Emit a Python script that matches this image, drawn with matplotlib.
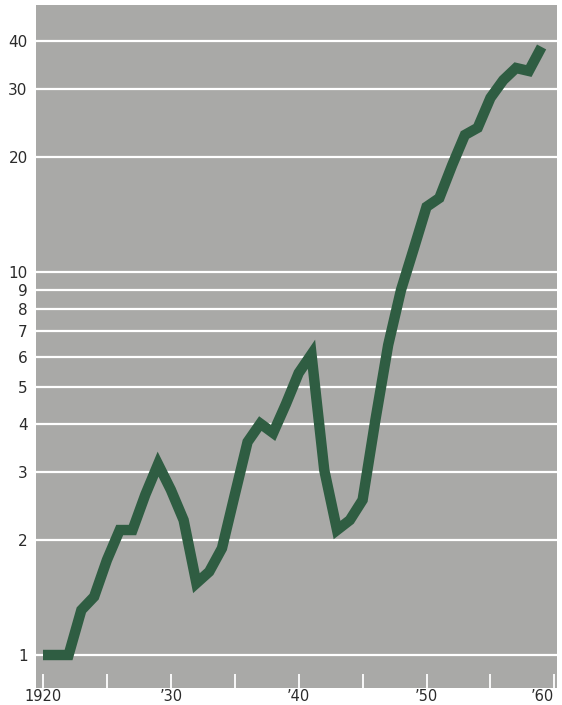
import numpy as np
import matplotlib
matplotlib.use('Agg')
import matplotlib.pyplot as plt

years = np.arange(1920, 1960)
values = [1.0, 1.0, 1.0, 1.31, 1.42, 1.77, 2.12, 2.12, 2.62, 3.15,
          2.70, 2.25, 1.54, 1.65, 1.90, 2.62, 3.60, 4.02, 3.80, 4.52,
          5.45, 6.10, 3.04, 2.12, 2.25, 2.54, 4.11, 6.45, 8.97, 11.5,
          14.8, 15.6, 19.0, 22.8, 23.8, 28.5, 31.7, 34.1, 33.5, 38.7]

grid_vals = [1, 2, 3, 4, 5, 6, 7, 8, 9, 10, 20, 30, 40]
x_ticks = [1920, 1930, 1940, 1950, 1960]
x_labels = ['1920', '\u201930', '\u201940', '\u201950', '\u201960']
minor_x = np.arange(1920, 1961, 5)

bg = '#a9a9a7'
green = '#2f5d42'
txt = '#2b2b2b'

fig = plt.figure(figsize=(5.62, 7.05), dpi=100)
ax = fig.add_axes([0.064, 0.0241, 0.927, 0.9688])
ax.set_facecolor(bg)
ax.set_yscale('log')
ax.set_ylim(0.82, 49.8)
ax.set_xlim(1919.45, 1960.2)

for g in grid_vals:
    ax.axhline(g, color='white', lw=1.6, zorder=1)

ax.plot(years, values, color=green, lw=7.5, solid_capstyle='butt',
        solid_joinstyle='miter', zorder=3)

for s in ax.spines.values():
    s.set_visible(False)

ax.set_yticks(grid_vals)
ax.set_yticklabels([str(g) for g in grid_vals])
ax.yaxis.set_minor_locator(matplotlib.ticker.NullLocator())
ax.tick_params(axis='y', length=0, pad=6, labelsize=11, colors=txt)

ax.set_xticks(minor_x, minor=True)
ax.set_xticks(x_ticks)
ax.set_xticklabels(x_labels)
ax.tick_params(axis='x', which='both', direction='in', length=10, width=1.3,
               color='white', pad=1, labelsize=10.5, labelcolor=txt)
ax.get_xticklabels()[-1].set_ha('right')
for t in ax.xaxis.get_major_ticks() + ax.xaxis.get_minor_ticks():
    t.tick1line.set_zorder(5)

fig.savefig('out.png', dpi=100, facecolor='white')
